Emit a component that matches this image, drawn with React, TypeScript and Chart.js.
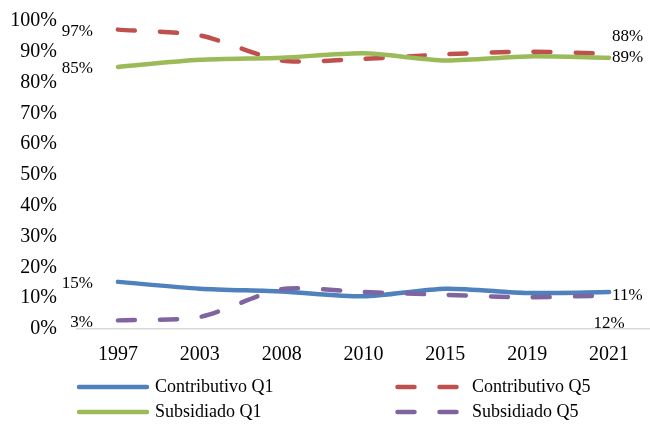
import React, { useEffect, useRef } from "react";
import { Chart, registerables } from "chart.js";

Chart.register(...registerables);

const categories = ["1997", "2003", "2008", "2010", "2015", "2019", "2021"];
const contributivoQ1 = [15.3, 13.1, 12.2, 10.6, 13.1, 11.7, 12.0];
const contributivoQ5 = [97.2, 95.3, 87.2, 87.7, 89.2, 90.0, 89.4];
const subsidiadoQ1 = [85.1, 87.4, 88.1, 89.5, 87.2, 88.5, 88.1];
const subsidiadoQ5 = [2.8, 3.9, 12.9, 12.0, 11.1, 10.3, 10.9];
const seriesNames = ["Contributivo Q1", "Contributivo Q5", "Subsidiado Q1", "Subsidiado Q5"];
const startLabels = ["15%", "97%", "85%", "3%"];
const endLabels = ["11%", "88%", "89%", "12%"];

const FONT = "'Liberation Serif', 'Times New Roman', serif";

const endStyle = [
  { dx: 3, dy: 3, align: "left" },
  { dx: 3, dy: -17, align: "left" },
  { dx: 3, dy: 0, align: "left" },
  { dx: 0, dy: 28, align: "center" },
];

const labelsPlugin = {
  id: "pointLabels",
  afterDatasetsDraw(chart: any) {
    const ctx = chart.ctx;
    ctx.save();
    ctx.font = `17px ${FONT}`;
    ctx.fillStyle = "#000";
    ctx.textBaseline = "middle";
    chart.data.datasets.forEach((_: any, i: number) => {
      const meta = chart.getDatasetMeta(i);
      const first = meta.data[0];
      const last = meta.data[meta.data.length - 1];
      ctx.textAlign = "right";
      ctx.fillText(startLabels[i], first.x - 25, first.y + 2);
      const s = endStyle[i];
      ctx.textAlign = s.align;
      ctx.fillText(endLabels[i], last.x + s.dx, last.y + s.dy);
    });
    ctx.restore();
  },
};

const legendLayout = [
  { ds: 0, x0: 79, x1: 147, tx: 155, y: 387 },
  { ds: 1, x0: 397.5, x1: 456.5, tx: 472, y: 387 },
  { ds: 2, x0: 79, x1: 147, tx: 155, y: 412 },
  { ds: 3, x0: 397.5, x1: 456.5, tx: 472, y: 412 },
];

const legendPlugin = {
  id: "customLegend",
  afterDraw(chart: any) {
    const ctx = chart.ctx;
    ctx.save();
    legendLayout.forEach((item) => {
      const ds = chart.data.datasets[item.ds];
      ctx.beginPath();
      ctx.strokeStyle = ds.borderColor;
      ctx.lineWidth = ds.borderWidth;
      ctx.lineCap = "round";
      ctx.setLineDash(ds.borderDash || []);
      ctx.moveTo(item.x0, item.y);
      ctx.lineTo(item.x1, item.y);
      ctx.stroke();
      ctx.setLineDash([]);
      ctx.font = `18px ${FONT}`;
      ctx.fillStyle = "#000";
      ctx.textAlign = "left";
      ctx.textBaseline = "middle";
      ctx.fillText(ds.label, item.tx, item.y);
    });
    ctx.restore();
  },
};

export default function App() {
  const ref = useRef<HTMLCanvasElement>(null);
  useEffect(() => {
    if (!ref.current) return;
    const common = {
      borderWidth: 4.5,
      pointRadius: 0,
      tension: 0.25,
      fill: false,
      borderCapStyle: "round" as const,
      borderJoinStyle: "round" as const,
    };
    const chart = new Chart(ref.current, {
      type: "line",
      data: {
        labels: categories,
        datasets: [
          { ...common, label: seriesNames[0], data: contributivoQ1, borderColor: "#4F81BD", order: 4 },
          { ...common, label: seriesNames[1], data: contributivoQ5, borderColor: "#C0504D", borderDash: [17, 25], order: 3 },
          { ...common, label: seriesNames[2], data: subsidiadoQ1, borderColor: "#9BBB59", order: 2 },
          { ...common, label: seriesNames[3], data: subsidiadoQ5, borderColor: "#8064A2", borderDash: [17, 25], order: 1 },
        ],
      },
      options: {
        responsive: false,
        animation: false,
        layout: { padding: { top: 21, right: 0, bottom: 59, left: 0 } },
        plugins: { legend: { display: false }, tooltip: { enabled: false } },
        scales: {
          x: {
            type: "category",
            offset: true,
            grid: { display: false, drawTicks: false },
            border: { display: true, color: "#D9D9D9", width: 1.5 },
            ticks: { color: "#000", font: { family: FONT, size: 20 }, padding: 14, maxRotation: 0 },
            afterFit(scale: any) {
              scale.height = 40;
              scale.paddingLeft = 0;
              scale.paddingRight = 0;
            },
          },
          y: {
            min: 0,
            max: 100,
            grid: { display: false, drawTicks: false },
            border: { display: false },
            ticks: {
              stepSize: 10,
              color: "#000",
              font: { family: FONT, size: 20 },
              padding: 20,
              callback: (v: any) => `${v}%`,
            },
            afterFit(scale: any) {
              scale.width = 77;
              scale.paddingTop = 0;
              scale.paddingBottom = 0;
            },
          },
        },
      },
      plugins: [labelsPlugin, legendPlugin],
    });
    return () => chart.destroy();
  }, []);
  return (
    <div style={{ position: "absolute", left: 0, top: 0, width: 650, height: 428, background: "#fff" }}>
      <canvas ref={ref} width={650} height={428} />
    </div>
  );
}
